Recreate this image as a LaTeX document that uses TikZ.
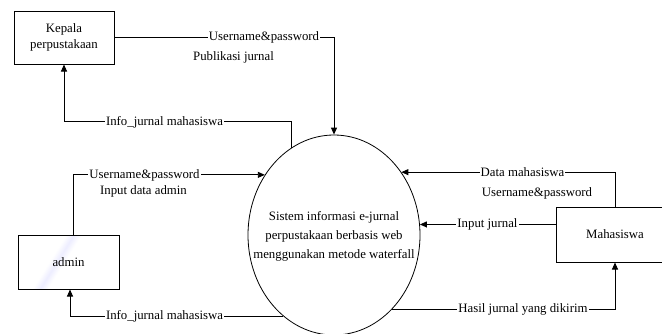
\documentclass[tikz,border=0pt]{standalone}
\usepackage{fontspec}
\setmainfont{Liberation Serif}
\usetikzlibrary{arrows.meta,shapes.geometric}
\pgfdeclarehorizontalshading{sheen}{100bp}{color(0bp)=(white); color(40bp)=(white); color(44bp)=(blue!7); color(48bp)=(white); color(100bp)=(white)}
\begin{document}
\begin{tikzpicture}[x=1pt,y=-1pt,
  font=\fontsize{12.8}{16}\selectfont,
  entity/.style={draw, line width=1pt, rectangle, inner sep=0pt, align=center},
  flow/.style={line width=0.9pt, -{Triangle[length=7pt,width=6pt]}},
  lbl/.style={fill=white, inner sep=1.2pt},
  txt/.style={inner sep=0pt}]
\useasboundingbox (0,0) rectangle (662,333);
\fill[white] (0,0) rectangle (662,333);

% entities
\node[entity, minimum width=100pt, minimum height=53pt] (kepala) at (64,37.5) {Kepala\\perpustakaan};
\node[entity, minimum width=101pt, minimum height=54pt, shading=sheen, shading angle=-32] (admin) at (68.5,262) {admin};
\node[entity, minimum width=118pt, minimum height=55pt] (mhs) at (615,234.5) {Mahasiswa};

% process
\node[draw, ellipse, line width=0.8pt, minimum width=172pt, minimum height=200pt, inner sep=0pt] (sys) at (334,235) {};
\node[align=center, inner sep=0pt, font=\fontsize{12.8}{19}\selectfont] (systxt) at (334,236) {Sistem informasi e-jurnal\\perpustakaan berbasis web\\menggunakan metode waterfall};

% flows
\draw[flow] (kepala.east) -| (sys.north);
\node[lbl] (f1) at (264,37.5) {Username\&password};
\node[txt] (f1b) at (233.5,57) {Publikasi jurnal};

\draw[flow] (sys.116) -- ++(0,-26) -| (kepala.south);
\node[lbl] (f2) at (164.5,122) {Info\_jurnal mahasiswa};

\draw[flow] ([xshift=4.5pt]admin.north) |- (sys.139);
\node[lbl] (f3) at (144.5,175) {Username\&password};
\node[txt] (f3b) at (143.5,191) {Input data admin};

\draw[flow] (sys.238) -| ([xshift=1.5pt]admin.south);
\node[lbl] (f4) at (164.5,316) {Info\_jurnal mahasiswa};

\draw[flow] (mhs.north) |- (sys.43);
\node[lbl] (f5) at (522.5,172) {Data mahasiswa};
\node[txt] (f5b) at (537,193) {Username\&password};

\draw[flow] (mhs.west |- sys.7) -- (sys.7);
\node[lbl] (f6) at (487.5,224.5) {Input jurnal};

\draw[flow] (sys.-52) -| (mhs.south);
\node[lbl] (f7) at (523,309) {Hasil jurnal yang dikirim};
\end{tikzpicture}
\end{document}
